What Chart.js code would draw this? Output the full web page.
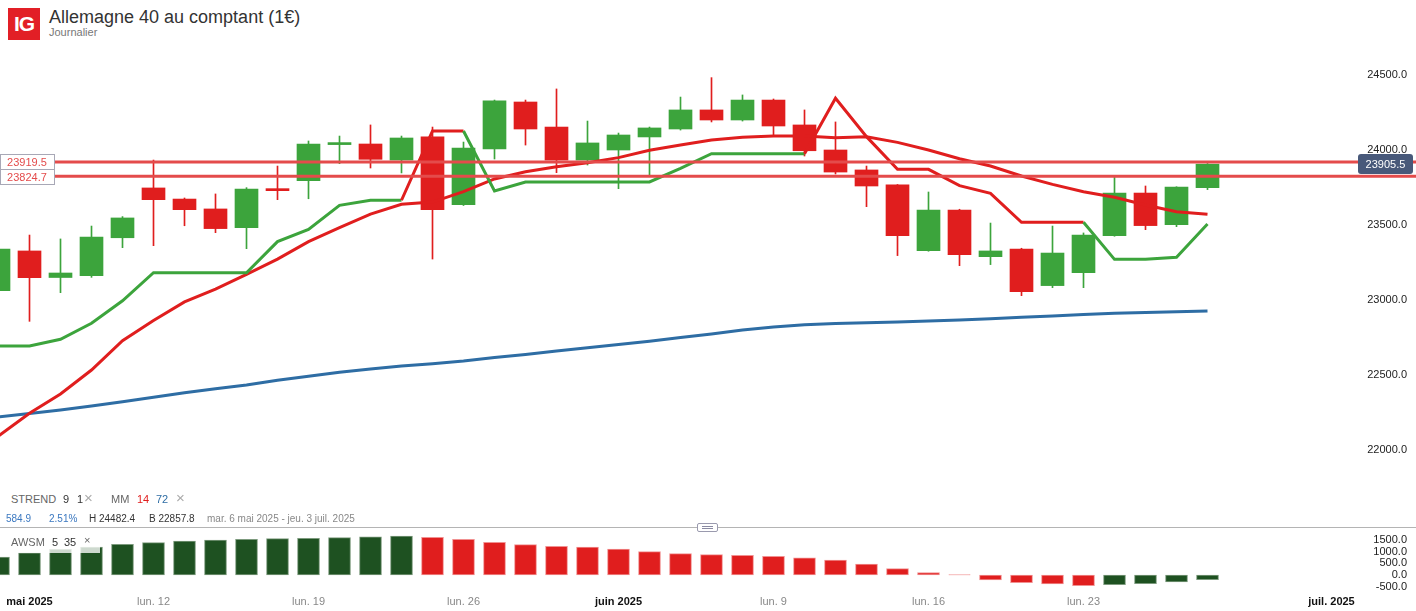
<!DOCTYPE html>
<html><head><meta charset="utf-8">
<script src="https://cdn.jsdelivr.net/npm/chart.js@4/dist/chart.umd.min.js"></script>
<style>
html,body{margin:0;padding:0;background:#fff;}
body{width:1416px;height:611px;position:relative;overflow:hidden;font-family:Arial,"Liberation Sans",sans-serif;}
.a{position:absolute;white-space:nowrap;}
#logo{left:8px;top:8px;width:32px;height:32px;background:#e21f26;color:#fff;font-weight:bold;font-size:21px;line-height:32px;text-align:center;letter-spacing:-1px;}
#title{left:49px;top:7px;font-size:18px;line-height:20px;color:#333;}
#sub{left:49px;top:26px;font-size:11px;line-height:13px;color:#777;}
.r1{top:493px;font-size:11px;line-height:13px;color:#666;}
.r2{top:512px;font-size:10px;line-height:13px;color:#333;}
.x{color:#aaa;font-size:15px;}
#sep{left:0;top:527px;width:1416px;height:1px;background:#b4b4b4;}
#handle{left:697px;top:523px;width:19px;height:7px;border:1px solid #9a9aae;background:#fff;border-radius:2px;}
#handle i{position:absolute;left:4px;width:11px;height:1px;background:#8a8aa2;}
#awbg{left:0;top:533px;width:100px;height:20px;background:rgba(255,255,255,0.78);z-index:2;}
.aw{top:536px;font-size:11px;line-height:13px;color:#666;z-index:3;}
#cmain{position:absolute;left:0;top:45px;}
#caw{position:absolute;left:0;top:530px;}
</style>
</head><body>
<div id="logo" class="a">IG</div>
<div id="title" class="a">Allemagne 40 au comptant (1€)</div>
<div id="sub" class="a">Journalier</div>

<canvas id="cmain" width="1416" height="445"></canvas>

<div class="a r1" style="left:11px">STREND</div>
<div class="a r1" style="left:63px;color:#333">9</div>
<div class="a r1" style="left:77px;color:#333">1</div>
<div class="a r1 x" style="left:84px;top:491px">×</div>
<div class="a r1" style="left:111px">MM</div>
<div class="a r1" style="left:137px;color:#e01e1e">14</div>
<div class="a r1" style="left:156px;color:#2e6da4">72</div>
<div class="a r1 x" style="left:176px;top:491px">×</div>

<div class="a r2" style="left:6px;color:#3b78c0">584.9</div>
<div class="a r2" style="left:49px;color:#3b78c0">2.51%</div>
<div class="a r2" style="left:89px">H 24482.4</div>
<div class="a r2" style="left:149px">B 22857.8</div>
<div class="a r2" style="left:207px;color:#888">mar. 6 mai 2025 - jeu. 3 juil. 2025</div>

<div id="sep" class="a"></div>
<div id="handle" class="a"><i style="top:2px"></i><i style="top:4px"></i></div>

<canvas id="caw" width="1416" height="81"></canvas>
<div id="awbg" class="a"></div>
<div class="a aw" style="left:11px">AWSM</div>
<div class="a aw" style="left:52px;color:#333">5</div>
<div class="a aw" style="left:64px;color:#333">35</div>
<div class="a aw x" style="left:84px;top:534px">×</div>

<script>
// ---------- DATA ----------
const opens  = [23062,23327,23150,23162,23415,23747,23673,23607,23482,23740,23795,24036,24040,23933,24087,23635,24007,24320,24153,23933,24000,24087,24140,24267,24200,24333,24167,24000,23867,23767,23329,23600,23289,23340,23096,23182,23429,23713,23502,23749];
const highs  = [23360,23433,23407,23493,23556,23933,23680,23707,23749,23893,24060,24093,24167,24093,24153,24053,24333,24333,24407,24193,24113,24153,24353,24482.4,24367,24340,24267,24187,23893,23770,23720,23605,23513,23345,23493,23447,23820,23760,23755,23910];
const lows   = [23040,22857.8,23049,23151,23349,23362,23495,23449,23342,23669,23675,23909,23880,23847,23273,23630,23940,24033,23849,23900,23742,23825,24133,24187,24193,24100,23960,23840,23622,23296,23325,23229,23236,23029,23082,23082,23425,23469,23489,23736];
const closes = [23340,23149,23180,23420,23547,23669,23602,23476,23740,23729,24040,24040,23938,24080,23602,24013,24327,24140,23933,24047,24100,24147,24267,24200,24333,24160,23995,23853,23760,23429,23600,23302,23327,23056,23313,23433,23713,23496,23753,23905.5];
const strend = [22693,22693,22738,22845,22995,23182,23182,23182,23182,23389,23471,23631,23665,23665,24127,24127,23727,23787,23787,23787,23787,23787,23878,23975,23975,23975,23975,24345,24089,23871,23871,23762,23711,23518,23518,23518,23271,23271,23285,23507];
const mm14   = [22093,22245,22373,22533,22729,22863,22987,23073,23171,23273,23389,23482,23573,23638,23653,23722,23807,23855,23889,23915,23949,23998,24033,24067,24085,24093,24093,24082,24089,24051,24000,23942,23893,23827,23771,23722,23685,23633,23589,23571];
const mm72   = [22221,22244,22267,22293,22322,22351,22381,22409,22433,22465,22491,22518,22540,22560,22575,22593,22616,22637,22660,22681,22703,22725,22750,22773,22800,22820,22835,22843,22848,22853,22860,22867,22875,22885,22893,22903,22911,22917,22921,22927];
const awsm   = [770,950,1100,1200,1315,1385,1457,1500,1530,1560,1575,1600,1640,1670,1615,1530,1400,1300,1230,1200,1115,1000,915,870,845,800,740,640,470,270,100,10,-215,-330,-385,-460,-415,-375,-300,-200];
const refLevels = [23919.5, 23824.7];
const lastPrice = 23905.5;
const priceTicks = [22000,22500,23000,23500,24000,24500];
const awTicks = [-500,0,500,1000,1500];
const xTickIdx = [1,5,10,15,20,25,30,35,43];
const xTickLabels = ['mai 2025','lun. 12','lun. 19','lun. 26','juin 2025','lun. 9','lun. 16','lun. 23','juil. 2025'];
const xTickMajor = [true,false,false,false,true,false,false,false,true];

// ---------- STYLE ----------
const GREEN='#3ca43c', RED='#e01e1e', BLUE='#2e6da4', LVL='#e44b4b';
const AWG='#1e5121', AWR='#e01e1e';
const X_MIN=0.0484, X_MAX=43.7903;
Chart.defaults.font.family='Arial, "Liberation Sans", sans-serif';

const candleColors = closes.map((c,i)=> c>=opens[i]?GREEN:RED);
const pts = arr => arr.map((v,i)=>({x:i,y:v}));
const noPad = s => { s.paddingTop=0; s.paddingBottom=0; s.paddingLeft=0; s.paddingRight=0; };
const isMajor = c => { const v = c && c.tick ? c.tick.value : null; const k = xTickIdx.indexOf(v); return k>=0 && xTickMajor[k]; };

const overlay = {
  id:'overlay',
  afterDraw(chart){
    const {ctx} = chart; const y = chart.scales.y;
    ctx.save();
    ctx.strokeStyle=LVL; ctx.lineWidth=3;
    const pys = refLevels.map(v=>y.getPixelForValue(v));
    pys.forEach(py=>{ctx.beginPath();ctx.moveTo(55,py);ctx.lineTo(chart.width,py);ctx.stroke();});
    const b2top = Math.round(pys[1]-7.5);
    const b1top = Math.min(Math.round(pys[0]-7.5), b2top-15);
    const boxes=[[b1top, refLevels[0]], [b2top, refLevels[1]]];
    ctx.font='11px Arial, "Liberation Sans", sans-serif';
    ctx.textAlign='center'; ctx.textBaseline='middle';
    boxes.forEach(([t,v])=>{
      ctx.fillStyle='#fff'; ctx.fillRect(0.5,t+0.5,54,15);
      ctx.strokeStyle='#a8a8b6'; ctx.lineWidth=1; ctx.strokeRect(0.5,t+0.5,54,15);
      ctx.fillStyle=LVL; ctx.fillText(v.toFixed(1),27,t+8.5);
    });
    const py=y.getPixelForValue(lastPrice);
    ctx.fillStyle='#48597a';
    ctx.beginPath();
    if (ctx.roundRect) ctx.roundRect(1358,Math.round(py-10),55,20,3); else ctx.rect(1358,Math.round(py-10),55,20);
    ctx.fill();
    ctx.fillStyle='#fff'; ctx.fillText(lastPrice.toFixed(1),1385.5,Math.round(py)+0.5);
    ctx.restore();
  }
};

new Chart(document.getElementById('cmain'),{
  type:'bar',
  data:{datasets:[
    {type:'line',label:'STREND',data:pts(strend),borderColor:GREEN,borderWidth:3,pointRadius:0,tension:0,order:0,
      segment:{borderColor:c=> strend[c.p1DataIndex]>closes[c.p1DataIndex]?RED:GREEN}},
    {type:'line',label:'MM 14',data:pts(mm14),borderColor:RED,borderWidth:3,pointRadius:0,tension:0,order:0},
    {type:'line',label:'MM 72',data:pts(mm72),borderColor:BLUE,borderWidth:3,pointRadius:0,tension:0,order:0},
    {label:'corps',data:opens.map((o,i)=>({x:i,y:[o,closes[i]]})),backgroundColor:candleColors,barThickness:23,grouped:false,minBarLength:2,order:1},
    {label:'mèche',data:lows.map((l,i)=>({x:i,y:[l,highs[i]]})),backgroundColor:candleColors,barThickness:1,grouped:false,order:2}
  ]},
  options:{
    responsive:false,animation:false,events:[],
    layout:{padding:{left:0,top:0,bottom:0,right:9}},
    plugins:{legend:{display:false},tooltip:{enabled:false}},
    scales:{
      x:{type:'linear',display:false,min:X_MIN,max:X_MAX,offset:false},
      y:{position:'right',min:21733.33,max:24700,
        grid:{display:false,drawTicks:false},border:{display:false},
        afterBuildTicks:s=>{s.ticks=priceTicks.map(v=>({value:v}));},
        afterFit:s=>{s.width=51; noPad(s);},
        ticks:{autoSkip:false,crossAlign:'far',padding:8,color:'#222',font:{size:11},callback:v=>Number(v).toFixed(1)}
      }
    }
  },
  plugins:[overlay]
});

const awColors = awsm.map((v,i)=> (i===0||v>awsm[i-1])?AWG:AWR);
const awBorders = awsm.map((v,i)=> (i===0||v>awsm[i-1])?'#7c9a7d':'#f19090');

new Chart(document.getElementById('caw'),{
  type:'bar',
  data:{datasets:[{label:'AWSM',data:pts(awsm),backgroundColor:awColors,borderColor:awBorders,borderWidth:1,borderSkipped:false,barThickness:22,grouped:false}]},
  options:{
    responsive:false,animation:false,events:[],
    layout:{padding:{left:0,top:0,bottom:0,right:9}},
    plugins:{legend:{display:false},tooltip:{enabled:false}},
    scales:{
      x:{type:'linear',min:X_MIN,max:X_MAX,offset:false,
        grid:{display:false,drawTicks:false},border:{display:false},
        afterBuildTicks:s=>{s.ticks=xTickIdx.map(v=>({value:v}));},
        afterFit:s=>{s.height=19; noPad(s);},
        ticks:{autoSkip:false,maxRotation:0,minRotation:0,padding:3,
          callback:v=>{const k=xTickIdx.indexOf(v); return k>=0?xTickLabels[k]:'';},
          color:c=> isMajor(c)?'#111':'#888',
          font:c=> ({size:11,weight: isMajor(c)?'bold':'normal'})}
      },
      y:{position:'right',min:-728.6,max:1928.6,
        grid:{display:false,drawTicks:false},border:{display:false},
        afterBuildTicks:s=>{s.ticks=awTicks.map(v=>({value:v}));},
        afterFit:s=>{s.width=51; noPad(s);},
        ticks:{autoSkip:false,crossAlign:'far',padding:8,color:'#222',font:{size:11,lineHeight:1},callback:v=>Number(v).toFixed(1)}
      }
    }
  }
});
</script>
</body></html>
